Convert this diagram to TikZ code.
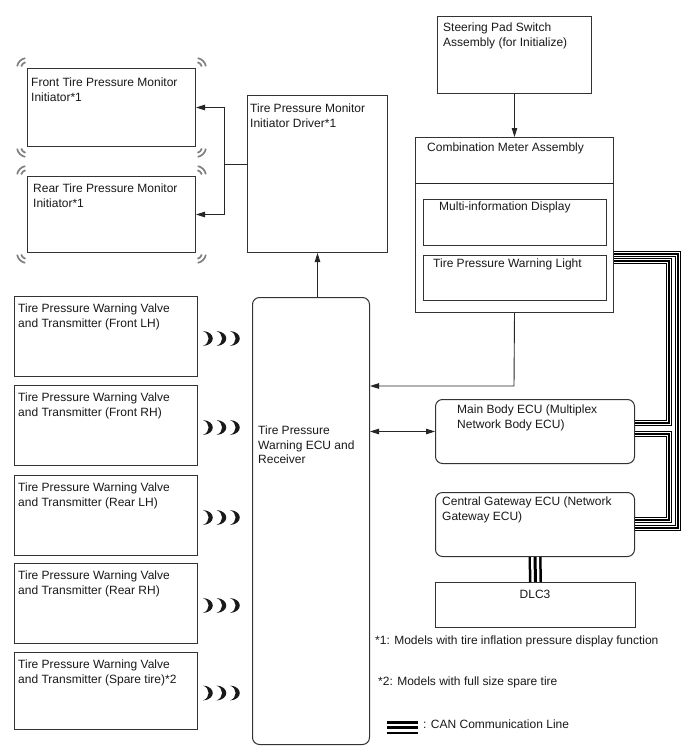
\documentclass[tikz,border=0pt]{standalone}
\usepackage{fontspec}
\setmainfont{Liberation Sans}
\usetikzlibrary{arrows.meta,calc}
\newcommand\cornermk[2]{%
  \draw[cmk] (#1) ++({#2-35}:10) arc[start angle={#2-35}, end angle={#2+35}, radius=10];
  \draw[cmk] (#1) ++({#2-30}:6) arc[start angle={#2-30}, end angle={#2+30}, radius=6];}
\newcommand\wavesat[1]{%
  \foreach \dx in {5,18.5,32}{%
    \coordinate (wt) at ($(#1.east)+(\dx,-5.5)$);
    \coordinate (wb) at ($(#1.east)+(\dx,9.5)$);
    \fill[black!90] (wt) .. controls +(13,1) and +(13,-1) .. (wb) .. controls +(7.5,-3) and +(7.5,3) .. (wt);
  }}
\begin{document}
\begin{tikzpicture}[x=1pt,y=-1pt,
  box/.style={draw=black!80, line width=1pt, inner sep=0pt, anchor=north west},
  rbox/.style={box, rounded corners=7pt},
  txt/.style={anchor=north west, inner sep=0pt, align=left, text=black!90,
    font=\fontsize{12}{14.5}\selectfont},
  wire/.style={draw=black!85, line width=0.9pt},
  arr/.style={wire, -{Triangle[length=9pt,width=5.5pt]}},
  arrb/.style={wire, {Triangle[length=9pt,width=5.5pt]}-{Triangle[length=9pt,width=5.5pt]}},
  can/.style={draw=black, line width=6.5pt, postaction={draw=white, line width=4pt},
    postaction={draw=black, line width=1.4pt}},
  canw/.style={draw=black, line width=13pt, postaction={draw=white, line width=8pt},
    postaction={draw=black, line width=3pt}},
  cmk/.style={draw=black!50, line width=1.7pt}
]
\useasboundingbox (0,0) rectangle (688,755);
\fill[white] (0,0) rectangle (688,755);

% initiators
\node[box, minimum width=168pt, minimum height=78pt] (front) at (27,68) {};
\node[box, minimum width=168pt, minimum height=76pt] (rear) at (27,176) {};
\node[txt] (fronttxt) at (31,78) {Front Tire Pressure Monitor\\Initiator*1};
\node[txt] (reartxt) at (33,184) {Rear Tire Pressure Monitor\\Initiator*1};
\foreach \n in {front,rear}{
  \cornermk{\n.north west}{-135}
  \cornermk{\n.north east}{-45}
  \cornermk{\n.south west}{135}
  \cornermk{\n.south east}{45}
}

% driver
\node[box, minimum width=140pt, minimum height=157pt] (driver) at (247,95) {};
\node[txt] (drivertxt) at (250,104) {Tire Pressure Monitor\\Initiator Driver*1};

% transmitters
\node[box, minimum width=183pt, minimum height=80pt] (tx1) at (14,296) {};
\node[box, minimum width=183pt, minimum height=80pt] (tx2) at (14,385) {};
\node[box, minimum width=183pt, minimum height=80pt] (tx3) at (14,475) {};
\node[box, minimum width=183pt, minimum height=80pt] (tx4) at (14,563) {};
\node[box, minimum width=183pt, minimum height=77pt] (tx5) at (14,652) {};
\node[txt] (tx1txt) at (18,304) {Tire Pressure Warning Valve\\and Transmitter (Front LH)};
\node[txt] (tx2txt) at (18,393) {Tire Pressure Warning Valve\\and Transmitter (Front RH)};
\node[txt] (tx3txt) at (18,483) {Tire Pressure Warning Valve\\and Transmitter (Rear LH)};
\node[txt] (tx4txt) at (18,571) {Tire Pressure Warning Valve\\and Transmitter (Rear RH)};
\node[txt] (tx5txt) at (18,660) {Tire Pressure Warning Valve\\and Transmitter (Spare tire)*2};
\wavesat{tx1}
\wavesat{tx2}
\wavesat{tx3}
\wavesat{tx4}
\wavesat{tx5}

% ECU
\node[rbox, minimum width=117pt, minimum height=447pt] (ecu) at (252,297) {};
\node[txt] (ecutxt) at (258,426) {Tire Pressure\\Warning ECU and\\Receiver};

% right side
\node[box, minimum width=154pt, minimum height=77pt] (steer) at (437,16) {};
\node[txt] (steertxt) at (443,23) {Steering Pad Switch\\Assembly (for Initialize)};
\node[box, minimum width=198pt, minimum height=175pt] (comb) at (415,137) {};
\node[txt] (combtxt) at (427,143) {Combination Meter Assembly};
\draw[wire] (comb.west |- 0,183) -- (comb.east |- 0,183);
\node[box, minimum width=183pt, minimum height=46pt] (multi) at (423,199) {};
\node[txt] (multitxt) at (439,202) {Multi-information Display};
\node[box, minimum width=183pt, minimum height=45pt] (tpwl) at (423,255) {};
\node[txt] (tpwltxt) at (433,259) {Tire Pressure Warning Light};

\node[rbox, minimum width=199pt, minimum height=64pt] (mbody) at (435,399) {};
\node[txt] (mbodytxt) at (457,405) {Main Body ECU (Multiplex\\Network Body ECU)};
\node[rbox, minimum width=199pt, minimum height=64pt] (gw) at (435,492) {};
\node[txt] (gwtxt) at (442,497) {Central Gateway ECU (Network\\Gateway ECU)};
\node[box, minimum width=200pt, minimum height=45pt] (dlc) at (435,582) {};
\node[txt, anchor=north] (dlctxt) at (535,590) {DLC3};

% notes
\node[txt] (fn1) at (375,636) {*1: Models with tire inflation pressure display function};
\node[txt] (fn2) at (378,677) {*2: Models with full size spare tire};
\coordinate (lg1) at (387,727.5);
\coordinate (lg2) at (418,727.5);
\draw[canw] (lg1) -- (lg2);
\node[txt] (lgtxt) at (423,720) {: CAN Communication Line};

% connectors
\coordinate (split) at (224,164);
\draw[wire] (driver.west |- split) -- (split);
\draw[arr] (split) |- (front.east);
\draw[arr] (split) |- (rear.east);
\draw[arr] (driver.south |- ecu.north) -- (driver.south);
\draw[arr] (steer.south) -- (steer.south |- comb.north);
\coordinate (cbturn) at (514,386);
\draw[arr] (comb.south) -- (cbturn) -- (ecu.east |- cbturn);
\draw[arrb] (ecu.east |- mbody.west) -- (mbody.west);

% CAN lines
\draw[can] (comb.east |- 0,254) -- (678,254) -- (678,528) -- (gw.east |- 0,528);
\draw[can] (comb.east |- 0,261) -- (669,261) -- (669,423) -- (mbody.east |- 0,423);
\draw[can] (mbody.east |- 0,434) -- (669,434) -- (669,520) -- (gw.east |- 0,520);
\draw[canw] (gw.south) -- (dlc.north);
\end{tikzpicture}
\end{document}
